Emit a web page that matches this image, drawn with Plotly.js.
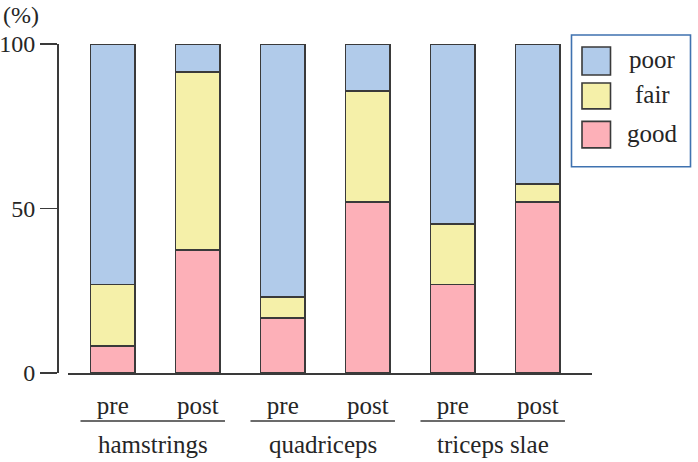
<!DOCTYPE html>
<html>
<head>
<meta charset="utf-8">
<script src="https://cdn.plot.ly/plotly-3.0.1.min.js"></script>
<style>html,body{margin:0;padding:0;background:#fff;}#chart{width:698px;height:462px;}</style>
</head>
<body>
<div id="chart"></div>
<script>
var groups = ['hamstrings', 'quadriceps', 'triceps slae'];
var phases = ['pre', 'post'];
var seriesNames = ['good', 'fair', 'poor'];
var good = [8.3, 37.3, 16.8, 52.0, 26.9, 52.0];
var fair = [18.6, 54.2, 6.3, 33.8, 18.5, 5.5];
var poor = [73.1, 8.5, 76.9, 14.2, 54.6, 42.5];
var yTicks = [0, 50, 100];

var colors = {good: '#fdb0b8', fair: '#f5f0a9', poor: '#b1cbea'};
var FONT = '"Liberation Serif", "Times New Roman", serif';
var INK = '#3a3a3a';
var TXT = '#262626';
var FS = 25;

var cats = [], tickText = [];
groups.forEach(function (g) {
  phases.forEach(function (p) { cats.push(g + ' ' + p); tickText.push(p); });
});

var values = {good: good, fair: fair, poor: poor};
var traces = seriesNames.map(function (n) {
  return {
    type: 'bar', name: n, x: cats, y: values[n], width: 0.524,
    marker: {color: colors[n], line: {color: INK, width: 1.8}},
    showlegend: false, hoverinfo: 'skip'
  };
});

var L = 57, R = 106, T = 44, B = 88.5;
var W = 698 - L - R, H = 462 - T - B;
function px(p) { return (p - L) / W; }
function py(p) { return (462 - B - p) / H; }

var shapes = [], annotations = [];
groups.forEach(function (g, i) {
  var s = i * phases.length;
  shapes.push({type: 'line', xref: 'x', yref: 'paper', ysizemode: 'pixel', yanchor: 0,
    x0: s - 0.38, x1: s + 1.32, y0: -48, y1: -48, line: {color: INK, width: 1.6}});
  annotations.push({xref: 'x', yref: 'paper', x: s + 0.47, y: 0, yanchor: 'middle',
    yshift: -71, showarrow: false, text: g, font: {family: FONT, size: FS, color: TXT}});
});

annotations.push({xref: 'paper', yref: 'paper', x: px(1), y: py(15), xanchor: 'left', yanchor: 'middle',
  showarrow: false, text: '(%)', font: {family: FONT, size: 24, color: TXT}});

// legend box
shapes.push({type: 'rect', xref: 'paper', yref: 'paper', x0: px(571.5), x1: px(690.5), y0: py(167), y1: py(35),
  line: {color: '#3f72b0', width: 1.6}, fillcolor: 'rgba(0,0,0,0)'});
var legendOrder = ['poor', 'fair', 'good'];
var rows = [[47, 75], [83, 109], [121.5, 148]];
legendOrder.forEach(function (n, i) {
  shapes.push({type: 'rect', xref: 'paper', yref: 'paper', x0: px(582), x1: px(610.5),
    y0: py(rows[i][1]), y1: py(rows[i][0]), line: {color: INK, width: 1.6}, fillcolor: colors[n]});
  annotations.push({xref: 'paper', yref: 'paper', x: px(652), y: py((rows[i][0] + rows[i][1]) / 2 - 1),
    xanchor: 'center', yanchor: 'middle', showarrow: false, text: n,
    font: {family: FONT, size: FS, color: TXT}});
});

var layout = {
  width: 698, height: 462,
  margin: {l: L, r: R, t: T, b: B, pad: 0},
  paper_bgcolor: '#fff', plot_bgcolor: '#fff',
  barmode: 'stack',
  font: {family: FONT, size: FS, color: TXT},
  xaxis: {
    type: 'category', domain: [px(68), 1], range: [-0.527, 5.638],
    tickmode: 'array', tickvals: cats, ticktext: tickText,
    showline: true, linecolor: INK, linewidth: 1.6, ticks: '', showgrid: false, zeroline: false,
    ticklabelstandoff: 9, tickfont: {family: FONT, size: FS, color: TXT}, fixedrange: true
  },
  yaxis: {
    range: [0, 100], anchor: 'free', position: 0, tickmode: 'array', tickvals: yTicks,
    showline: true, linecolor: INK, linewidth: 1.6, ticks: 'outside', ticklen: 17, tickwidth: 1.6,
    tickcolor: INK, showgrid: false, zeroline: false, ticklabelstandoff: 0,
    tickfont: {family: FONT, size: 24, color: TXT}, fixedrange: true
  },
  shapes: shapes,
  annotations: annotations
};

Plotly.newPlot('chart', traces, layout, {staticPlot: true, displayModeBar: false});
</script>
</body>
</html>
